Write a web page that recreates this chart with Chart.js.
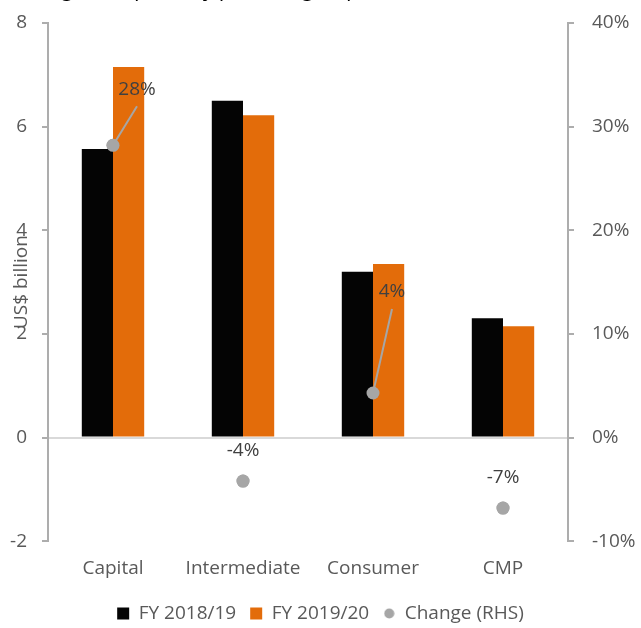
<!DOCTYPE html>
<html>
<head>
<meta charset="utf-8">
<script src="https://cdn.jsdelivr.net/npm/chart.js@4/dist/chart.umd.min.js"></script>
<style>
  body { margin: 0; background: #fff; overflow: hidden; }
  #wrap { position: relative; width: 641px; height: 628px; }
  #topTitle {
    position: absolute; left: 12px; top: -24px; white-space: nowrap;
    font: italic 22px "Open Sans", sans-serif; color: #000; line-height: 22px;
  }
</style>
</head>
<body>
<div id="wrap">
  <canvas id="chart" width="641" height="628"></canvas>
  <div id="topTitle">Change in exports by product group – US$, %</div>
</div>
<script>
// values
const categories = ['Capital', 'Intermediate', 'Consumer', 'CMP'];
const fy1819 = [5.57, 6.5, 3.2, 2.3];
const fy1920 = [7.15, 6.22, 3.35, 2.15];
const changePct = [28.2, -4.2, 4.3, -6.8];
const changeText = ['28%', '-4%', '4%', '-7%'];

const grey = '#595959';
const axisGrey = '#ADADAD';
const dotGrey = '#A6A6A6';
const font = { family: '"Open Sans", sans-serif', size: 19 };

// where each % label sits relative to its dot
const labelDx = [24, 0, 19, 0];
const labelDy = [-56, -30, -101, -30];
const leader = [true, false, true, false];

// small round legend marker for the RHS series
const legendDot = document.createElement('canvas');
legendDot.width = 11; legendDot.height = 11;
const dctx = legendDot.getContext('2d');
dctx.fillStyle = dotGrey;
dctx.beginPath(); dctx.arc(5.5, 5.5, 5, 0, Math.PI * 2); dctx.fill();

const changeLabels = {
  id: 'changeLabels',
  afterDatasetsDraw(chart) {
    const ctx = chart.ctx;
    const meta = chart.getDatasetMeta(2);
    ctx.save();
    meta.data.forEach((pt, i) => {
      const tx = pt.x + labelDx[i], ty = pt.y + labelDy[i];
      if (leader[i]) {
        ctx.strokeStyle = dotGrey;
        ctx.lineWidth = 2;
        ctx.beginPath();
        ctx.moveTo(pt.x, pt.y);
        ctx.lineTo(tx, ty + 17);
        ctx.stroke();
      }
      ctx.fillStyle = '#404040';
      ctx.font = '19px "Open Sans", sans-serif';
      ctx.textAlign = 'center';
      ctx.textBaseline = 'middle';
      ctx.fillText(changeText[i], tx, ty);
    });
    // dots back on top of the leader lines
    meta.data.forEach(pt => {
      ctx.fillStyle = dotGrey;
      ctx.beginPath();
      ctx.arc(pt.x, pt.y, 6.5, 0, Math.PI * 2);
      ctx.fill();
    });
    // left axis title
    const a = chart.chartArea;
    ctx.translate(22, (a.top + a.bottom) / 2);
    ctx.rotate(-Math.PI / 2);
    ctx.fillStyle = grey;
    ctx.font = '19px "Open Sans", sans-serif';
    ctx.fillText('US$ billion', 0, 0);
    ctx.restore();
  }
};

new Chart(document.getElementById('chart'), {
  data: {
    labels: categories,
    datasets: [
      { type: 'bar', label: 'FY 2018/19', data: fy1819, backgroundColor: '#040404', yAxisID: 'y', barPercentage: 1, categoryPercentage: 0.48 },
      { type: 'bar', label: 'FY 2019/20', data: fy1920, backgroundColor: '#E36C0A', yAxisID: 'y', barPercentage: 1, categoryPercentage: 0.48 },
      { type: 'line', label: 'Change (RHS)', data: changePct, yAxisID: 'y2', showLine: false,
        pointRadius: 6.5, pointBackgroundColor: dotGrey, pointBorderWidth: 0, backgroundColor: dotGrey, borderColor: dotGrey }
    ]
  },
  options: {
    responsive: false,
    animation: false,
    layout: { padding: { top: 23, left: 0, right: 0, bottom: -5 } },
    plugins: {
      tooltip: { enabled: false },
      legend: {
        position: 'bottom',
        labels: {
          color: grey, font: font, usePointStyle: true, boxWidth: 12, boxHeight: 12, padding: 14,
          generateLabels(chart) {
            return chart.data.datasets.map((d, i) => ({
              text: d.label, datasetIndex: i, fillStyle: d.backgroundColor, strokeStyle: d.backgroundColor,
              lineWidth: 0, pointStyle: d.type === 'bar' ? 'rect' : legendDot, fontColor: grey, hidden: false
            }));
          }
        }
      }
    },
    scales: {
      x: {
        grid: { display: false },
        border: { display: false },
        ticks: { color: grey, font: font, padding: 8 },
        afterFit: s => { s.height += 2; }
      },
      y: {
        position: 'left', min: -2, max: 8,
        ticks: { stepSize: 2, color: grey, font: font, padding: 15 },
        grid: {
          drawOnChartArea: true, drawTicks: true, tickLength: 6,
          color: c => (c.tick && c.tick.value === 0 ? '#D9D9D9' : 'rgba(0,0,0,0)'),
          lineWidth: 2, tickColor: axisGrey
        },
        border: { display: true, color: axisGrey, width: 2 },
        afterFit: s => { s.width = 48; s.paddingTop = 0; s.paddingBottom = 0; }
      },
      y2: {
        position: 'right', min: -10, max: 40,
        ticks: { stepSize: 10, color: grey, font: font, padding: 18, callback: v => v + '%' },
        grid: { drawOnChartArea: false, tickLength: 6, tickColor: axisGrey, lineWidth: 2 },
        border: { display: true, color: axisGrey, width: 2 },
        afterFit: s => { s.width = 73; s.paddingTop = 0; s.paddingBottom = 0; }
      }
    }
  },
  plugins: [changeLabels]
});
</script>
</body>
</html>
